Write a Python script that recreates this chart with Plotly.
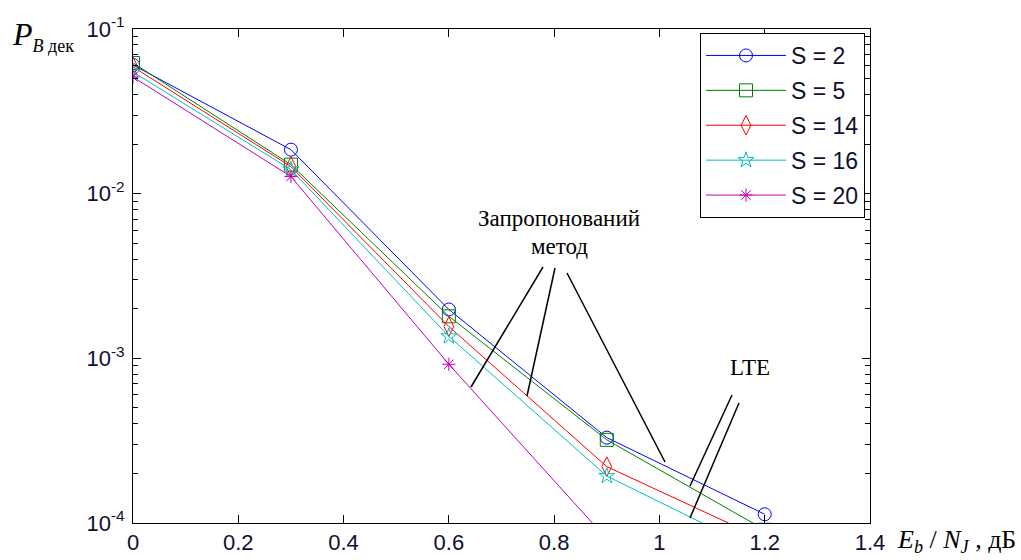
import plotly.graph_objects as go

# ---- data ----
x_db = [0, 0.3, 0.6, 0.9, 1.2]
s2 = [0.0605, 0.0185, 0.00198, 3.3e-4, 1.13e-4]
s5 = [0.0622, 0.0150, 0.0018, 3.2e-4, 9.1e-5]
s14 = [0.0589, 0.0146, 0.00156, 2.2e-4, 7.9e-5]
s16 = [0.0548, 0.0140, 0.00136, 1.93e-4, 6.5e-5]
s20 = [0.0511, 0.0127, 0.00092, 8.0e-5]
series_names = ["S = 2", "S = 5", "S = 14", "S = 16", "S = 20"]
x_ticks = [0, 0.2, 0.4, 0.6, 0.8, 1.0, 1.2, 1.4]
x_ticktext = ["0", "0.2", "0.4", "0.6", "0.8", "1", "1.2", "1.4"]
y_ticks = [1e-4, 1e-3, 1e-2, 1e-1]
y_ticktext = ["10<sup>-4</sup>", "10<sup>-3</sup>", "10<sup>-2</sup>", "10<sup>-1</sup>"]

colors = ["#0000FF", "#008000", "#FF0000", "#00BFBF", "#BF00BF"]
symbols = ["circle-open", "square-open", "diamond-tall-open", "star-open", "asterisk-open"]
msizes = [13, 13, 14, 12, 11]
ys = [s2, s5, s14, s16, s20]

W, H = 1021, 560
L, R, T, B = 133, 870, 29, 523

def px(xp):
    return (xp - L) / (R - L)

def py(yp):
    return (B - yp) / (B - T)

fig = go.Figure()
for i, (name, y) in enumerate(zip(series_names, ys)):
    fig.add_trace(go.Scatter(
        x=x_db[:len(y)], y=y, name=name, mode="lines+markers",
        line=dict(color=colors[i], width=1),
        marker=dict(symbol=symbols[i], size=msizes[i], color=colors[i],
                    line=dict(color=colors[i], width=1)),
        legendgroup=name,
    ))

minor_vals = [m * 10.0 ** e for e in range(-4, -1) for m in range(2, 10)]
sans = "Liberation Sans, Arial"
tickfont = dict(family=sans, size=22, color="#101030")

fig.update_layout(
    width=W, height=H,
    margin=dict(l=L, r=W - R, t=T, b=H - B, autoexpand=False),
    paper_bgcolor="white", plot_bgcolor="white",
    font=dict(family=sans, size=23, color="black"),
    showlegend=True,
    legend=dict(
        x=px(865), y=py(33), xanchor="right", yanchor="top",
        bgcolor="white", bordercolor="black", borderwidth=1,
        font=dict(family=sans, size=23, color="#101030"),
        itemwidth=80, traceorder="grouped", tracegroupgap=2,
    ),
    xaxis=dict(
        range=[0, 1.4], tickvals=x_ticks, ticktext=x_ticktext, tickfont=tickfont,
        ticks="inside", ticklen=8, tickcolor="black", automargin=False,
        showline=True, linecolor="black", linewidth=1, mirror="ticks",
        showgrid=False, zeroline=False, ticklabelstandoff=0,
    ),
    yaxis=dict(
        type="log", range=[-4, -1], tickvals=y_ticks, ticktext=y_ticktext,
        tickfont=tickfont, automargin=False,
        ticks="inside", ticklen=8, tickcolor="black",
        showline=True, linecolor="black", linewidth=1, mirror="ticks",
        showgrid=False, zeroline=False, ticklabelstandoff=3,
        minor=dict(tickvals=minor_vals, ticks="inside", ticklen=5,
                   tickcolor="black", showgrid=False),
    ),
)

serif = "Liberation Serif, Times New Roman"
ann = [
    dict(x=px(10), y=py(36), xanchor="left", yanchor="middle",
         text="<i>P</i><sub><span style='font-size:18px'><i>B</i> дек</span></sub>",
         font=dict(family=serif, size=32)),
    dict(x=px(895), y=py(541), xanchor="left", yanchor="middle",
         text="<i>E<sub>b</sub></i> / <i>N<sub>J</sub></i> , дБ",
         font=dict(family=serif, size=26)),
    dict(x=px(559), y=py(218), xanchor="center", yanchor="middle",
         text="Запропонований", font=dict(family=serif, size=23)),
    dict(x=px(559), y=py(247), xanchor="center", yanchor="middle",
         text="метод", font=dict(family=serif, size=23)),
    dict(x=px(750), y=py(367), xanchor="center", yanchor="middle",
         text="LTE", font=dict(family=serif, size=23)),
]
for a in ann:
    a.update(xref="paper", yref="paper", showarrow=False)
    fig.add_annotation(**a)

pointer_lines = [
    ((543, 267), (471, 387)),
    ((555, 268), (527, 396)),
    ((567, 273), (665, 462)),
    ((732, 395), (690, 486)),
    ((739, 403), (690, 518)),
]
for (x0, y0), (x1, y1) in pointer_lines:
    fig.add_shape(type="line", xref="paper", yref="paper",
                  x0=px(x0), y0=py(y0), x1=px(x1), y1=py(y1),
                  line=dict(color="black", width=1.5))

fig.write_html("out.html")
